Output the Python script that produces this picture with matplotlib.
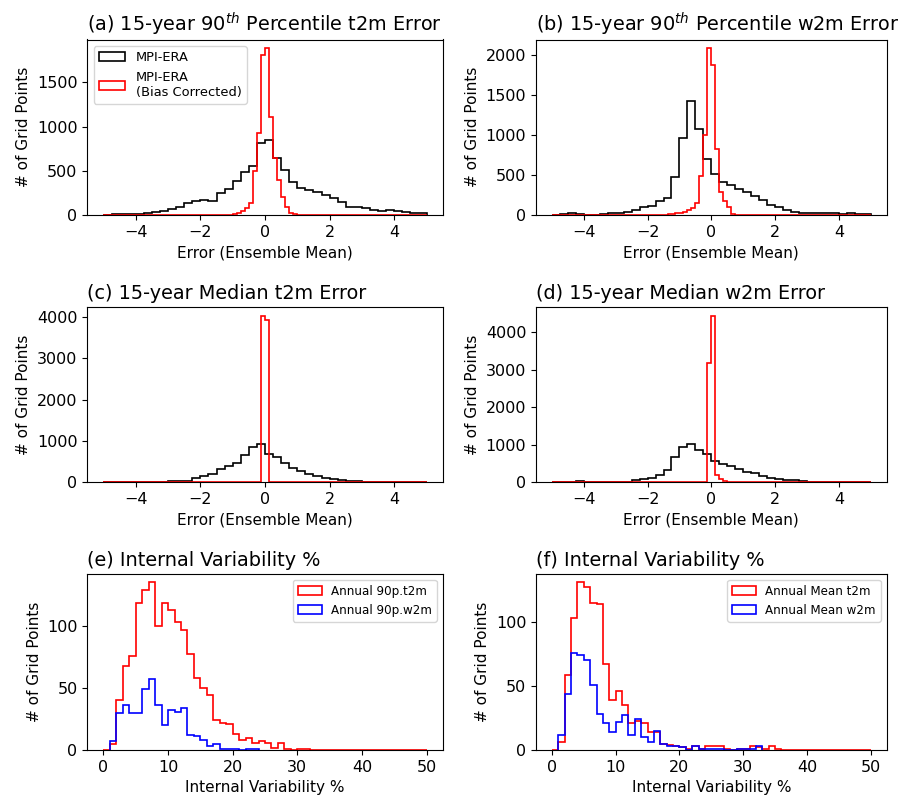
import numpy as np
import matplotlib
matplotlib.use("Agg")
import matplotlib.pyplot as plt
from matplotlib.ticker import MultipleLocator

# ── Bin edges ────────────────────────────────────────────────────────────────
err_edges_coarse = np.linspace(-5, 5, 41)    # 0.25 wide  (MPI-ERA)
err_edges_fine   = np.linspace(-5, 5, 81)    # 0.125 wide (bias corrected)
iv_edges_full    = np.arange(0, 51)          # 1 % bins
iv_edges_e_w2m   = np.arange(1, 25)
iv_edges_f_w2m   = np.arange(1, 34)

# ── (a) 90th percentile t2m error ─────────────────────────────────────────────
a_raw = [5, 15, 10, 15, 15, 20, 35, 45, 65, 95,
         135, 160, 170, 160, 250, 295, 385, 490, 550, 810,
         845, 650, 510, 370, 300, 285, 255, 225, 190, 150,
         95, 85, 75, 55, 45, 55, 45, 30, 25, 20]
a_bc_start = -1.25
a_bc = [3, 5, 10, 20, 40, 75, 135, 500, 930, 1810,
        1890, 1110, 640, 400, 200, 90, 25, 10, 5, 2]

# ── (b) 90th percentile w2m error ─────────────────────────────────────────────
b_raw = [5, 10, 20, 10, 5, 5, 10, 20, 20, 35,
         60, 105, 115, 175, 210, 480, 965, 1425, 1070, 695,
         510, 415, 375, 320, 285, 240, 190, 125, 95, 60,
         33, 30, 30, 20, 20, 20, 12, 20, 12, 12]
b_bc_start = -1.75
b_bc = [3, 5, 5, 10, 15, 20, 30, 40, 60, 85,
        145, 490, 995, 2090, 1880, 825, 290, 180, 95, 15,
        5, 3, 3, 2, 3, 2, 3, 2]

# ── (c) median t2m error ─────────────────────────────────────────────────────
c_raw = [0, 0, 0, 10, 15, 16, 18, 20, 48, 48,
         48, 113, 153, 217, 338, 395, 460, 660, 860, 925,
         700, 620, 470, 360, 285, 205, 155, 115, 80, 58,
         40, 32, 18, 10, 8, 8, 8, 6, 6, 6]
c_bc_start = -0.125
c_bc = [4030, 3920]

# ── (d) median w2m error ─────────────────────────────────────────────────────
d_raw = [0, 0, 0, 35, 0, 0, 20, 25, 25, 25,
         55, 90, 130, 210, 345, 665, 940, 1035, 860, 770,
         565, 505, 440, 355, 290, 240, 175, 130, 105, 60,
         60, 35, 25, 25, 0, 0, 0, 0, 0, 0]
d_bc_start = -0.125
d_bc = [3170, 4430, 190, 80, 30, 10, 5, 3]

# ── (e) internal variability, annual 90th percentile ─────────────────────────
e_t2m = [0, 5, 40, 68, 76, 118, 129, 135, 100, 118,
         113, 103, 97, 77, 58, 50, 44, 24, 22, 21,
         13, 8, 10, 6, 7, 6, 2, 6, 1, 0,
         1, 1] + [0] * 18
e_w2m = [7, 30, 36, 30, 30, 49, 57, 36, 20, 32,
         31, 34, 12, 11, 8, 3, 5, 1, 1, 1,
         0, 1, 1]

# ── (f) internal variability, annual mean ────────────────────────────────────
f_t2m = [0, 6, 59, 103, 131, 127, 115, 114, 67, 39,
         46, 35, 21, 23, 21, 14, 14, 5, 4, 3,
         2, 1, 3, 1, 3, 3, 3, 1, 0, 1,
         1, 3, 2, 1, 3, 1] + [0] * 14
f_w2m = [12, 44, 76, 74, 70, 51, 28, 21, 14, 22,
         27, 12, 24, 10, 6, 15, 5, 3, 3, 2,
         0, 3, 1, 1, 1, 1, 0, 0, 1, 1,
         1, 3]


def place_fine(start, vals):
    """Put a short run of counts into the full 0.125-wide bin array."""
    out = np.zeros(len(err_edges_fine) - 1)
    i0 = int(round((start - err_edges_fine[0]) / 0.125))
    out[i0:i0 + len(vals)] = vals
    return out


def step_hist(ax, edges, counts, color, label=None):
    counts = np.asarray(counts, dtype=float)
    ax.hist(edges[:-1], bins=edges, weights=counts, histtype='step',
            color=color, lw=1.2, label=label)


TITLE_FS, LABEL_FS, TICK_FS = 13.9, 11, 11.5

fig = plt.figure(figsize=(8.98, 7.99), dpi=100)
W, H = 898, 799


def add_ax(l, t, r, b):
    return fig.add_axes([l / W, 1 - b / H, (r - l) / W, (b - t) / H])


rows = [(39.5, 215), (307.5, 482.5), (574, 750)]
cols = [(87.3, 442.7), (536, 886.7)]
axes = [[add_ax(cl, rt, cr, rb) for (cl, cr) in cols] for (rt, rb) in rows]

err_panels = [
    (axes[0][0], a_raw, a_bc_start, a_bc, "(a) 15-year 90$^{th}$ Percentile t2m Error"),
    (axes[0][1], b_raw, b_bc_start, b_bc, "(b) 15-year 90$^{th}$ Percentile w2m Error"),
    (axes[1][0], c_raw, c_bc_start, c_bc, "(c) 15-year Median t2m Error"),
    (axes[1][1], d_raw, d_bc_start, d_bc, "(d) 15-year Median w2m Error"),
]
for k, (ax, raw, bc_start, bc, title) in enumerate(err_panels):
    step_hist(ax, err_edges_coarse, raw, 'black', 'MPI-ERA')
    step_hist(ax, err_edges_fine, place_fine(bc_start, bc), 'red',
              'MPI-ERA\n(Bias Corrected)')
    ax.set_title(title, loc='left', fontsize=TITLE_FS)
    ax.set_xlabel("Error (Ensemble Mean)", fontsize=LABEL_FS)
    ax.set_ylabel("# of Grid Points", fontsize=LABEL_FS)
    ax.tick_params(labelsize=TICK_FS)
    if k == 0:
        ax.legend(loc='upper left', fontsize=9.4)

ax = axes[2][0]
step_hist(ax, iv_edges_full, e_t2m, 'red', 'Annual 90p.t2m')
step_hist(ax, iv_edges_e_w2m, e_w2m, 'blue', 'Annual 90p.w2m')
ax.set_title("(e) Internal Variability %", loc='left', fontsize=TITLE_FS)

ax = axes[2][1]
step_hist(ax, iv_edges_full, f_t2m, 'red', 'Annual Mean t2m')
step_hist(ax, iv_edges_f_w2m, f_w2m, 'blue', 'Annual Mean w2m')
ax.set_title("(f) Internal Variability %", loc='left', fontsize=TITLE_FS)

for ax in axes[2]:
    ax.set_xlabel("Internal Variability %", fontsize=LABEL_FS)
    ax.set_ylabel("# of Grid Points", fontsize=LABEL_FS)
    ax.tick_params(labelsize=TICK_FS)
    ax.set_xticks([0, 10, 20, 30, 40, 50])
    ax.yaxis.set_major_locator(MultipleLocator(50))
    ax.legend(loc='upper right', fontsize=8.6)

fig.savefig("out.png", dpi=100)
